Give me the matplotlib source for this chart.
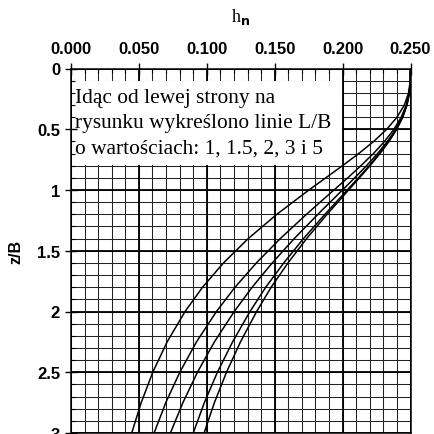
import numpy as np
import matplotlib
matplotlib.use("Agg")
import matplotlib.pyplot as plt
from matplotlib.patches import Rectangle

plt.rcParams['font.family'] = ['Liberation Sans', 'DejaVu Sans']

# z/B depths and h_n values, one list per L/B curve
z_B = [0, 0.1, 0.2, 0.3, 0.4, 0.5, 0.6, 0.7, 0.8, 0.9, 1.0,
       1.2, 1.4, 1.6, 1.8, 2.0, 2.25, 2.5, 2.75, 3.0]
h_LB1 = [0.2500, 0.2498, 0.2486, 0.2455, 0.2401, 0.2325, 0.2229, 0.2119, 0.1999, 0.1876, 0.1752,
         0.1516, 0.1305, 0.1123, 0.0969, 0.0840, 0.0708, 0.0602, 0.0517, 0.0447]
h_LB15 = [0.2500, 0.2499, 0.2490, 0.2469, 0.2432, 0.2378, 0.2309, 0.2227, 0.2135, 0.2038, 0.1936,
          0.1734, 0.1541, 0.1365, 0.1208, 0.1071, 0.0924, 0.0801, 0.0698, 0.0612]
h_LB2 = [0.2500, 0.2499, 0.2491, 0.2472, 0.2439, 0.2391, 0.2330, 0.2257, 0.2176, 0.2089, 0.1999,
         0.1818, 0.1644, 0.1482, 0.1334, 0.1202, 0.1056, 0.0931, 0.0824, 0.0732]
h_LB3 = [0.2500, 0.2499, 0.2492, 0.2474, 0.2442, 0.2397, 0.2339, 0.2271, 0.2196, 0.2116, 0.2034,
         0.1870, 0.1712, 0.1567, 0.1434, 0.1318, 0.1190, 0.1078, 0.0982, 0.0900]
h_LB5 = [0.2500, 0.2499, 0.2492, 0.2474, 0.2443, 0.2399, 0.2342, 0.2275, 0.2202, 0.2124, 0.2044,
         0.1886, 0.1735, 0.1598, 0.1474, 0.1367, 0.1248, 0.1145, 0.1056, 0.0980]

x_major = [0.0, 0.05, 0.10, 0.15, 0.20, 0.25]
x_labels = ['0.000', '0.050', '0.100', '0.150', '0.200', '0.250']
y_major = [0, 0.5, 1, 1.5, 2, 2.5, 3]
y_labels = ['0', '0.5', '1', '1.5', '2', '2.5', '3']

note_lines = ['Idąc od lewej strony na',
              'rysunku wykreślono linie L/B',
              'o wartościach: 1, 1.5, 2, 3 i 5']

W, H = 434, 435
fig = plt.figure(figsize=(W / 100, H / 100), dpi=100)
ax = fig.add_axes([71 / W, 1 / H, 339.5 / W, 364.5 / H])

ax.set_xlim(0, 0.25)
ax.set_ylim(3, 0)

# grid drawn by hand so the note box can hide it while ticks stay on top
x_minor = np.arange(0, 0.2501, 0.01)
y_minor = np.arange(0, 3.001, 0.1)
for v in x_minor:
    ax.axvline(v, color='#222222', lw=0.75, zorder=0.5)
for v in y_minor:
    ax.axhline(v, color='#222222', lw=0.75, zorder=0.5)
for v in x_major:
    ax.axvline(v, color='black', lw=1.3, zorder=0.6)
for v in y_major:
    ax.axhline(v, color='black', lw=1.3, zorder=0.6)

# white note box
ax.add_patch(Rectangle((0.0008, 0.105), 0.1984, 0.69, facecolor='white',
                       edgecolor='none', zorder=1))
for zl, line in zip([0.278, 0.484, 0.690], note_lines):
    ax.text(0.003, zl, line, family='Liberation Serif', fontsize=15.4,
            ha='left', va='baseline', zorder=1.5)

for h in [h_LB1, h_LB15, h_LB2, h_LB3, h_LB5]:
    ax.plot(h, z_B, color='black', lw=1.1, zorder=2)

ax.xaxis.tick_top()
ax.set_xticks(x_major)
ax.set_xticklabels(x_labels, fontweight='bold', fontsize=12)
ax.set_xticks(x_minor, minor=True)
ax.set_yticks(y_major)
ax.set_yticklabels(y_labels, fontweight='bold', fontsize=12)
ax.set_yticks(y_minor, minor=True)
ax.tick_params(which='major', direction='inout', length=8.5, width=1, color='black')
ax.tick_params(which='minor', direction='in', length=3, width=0.8, color='black')
ax.tick_params(axis='x', which='major', pad=4.5)
ax.tick_params(axis='y', which='major', pad=3.6)
ax.tick_params(right=False, bottom=False, which='both')

for s in ax.spines.values():
    s.set_linewidth(1.1)
    s.set_zorder(3)

ax.set_xlabel(r'h$_{\mathbf{n}}$', family='Liberation Serif', fontsize=13)
ax.xaxis.set_label_position('top')
ax.xaxis.set_label_coords(0.5, (434 - 17) / 364.5)
ax.xaxis.label.set_va('center')

ax.set_ylabel('z/B', fontweight='bold', fontsize=11.5)
ax.yaxis.set_label_coords((15.5 - 71) / 339.5, 0.5)
ax.yaxis.label.set_va('center')

fig.savefig('out.png', dpi=100)
